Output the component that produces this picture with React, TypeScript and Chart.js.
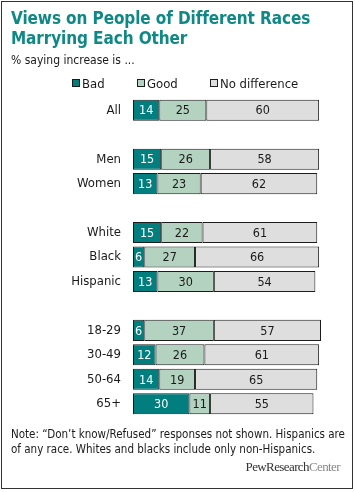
import React, { useEffect, useRef } from "react";
import { Chart, registerables } from "chart.js";

Chart.register(...registerables);

const categories = ["All", "", "Men", "Women", "", "White", "Black", "Hispanic", "", "18-29", "30-49", "50-64", "65+"];
const badValues = [14, null, 15, 13, null, 15, 6, 13, null, 6, 12, 14, 30];
const goodValues = [25, null, 26, 23, null, 22, 27, 30, null, 37, 26, 19, 11];
const noDiffValues = [60, null, 58, 62, null, 61, 66, 54, null, 57, 61, 65, 55];
const seriesNames = ["Bad", "Good", "No difference"];
const seriesColors = ["#007F7E", "#B3D2C0", "#DEDEDE"];
const labelColors = ["#ffffff", "#1a1a1a", "#1a1a1a"];

const FONT = "'DejaVu Sans Condensed', 'DejaVu Sans', sans-serif";

const valueLabelPlugin = {
  id: "valueLabels",
  afterDatasetsDraw(chart: any) {
    const ctx = chart.ctx;
    ctx.save();
    ctx.font = `12.5px ${FONT}`;
    ctx.textAlign = "center";
    ctx.textBaseline = "middle";
    chart.data.datasets.forEach((ds: any, di: number) => {
      const meta = chart.getDatasetMeta(di);
      meta.data.forEach((el: any, i: number) => {
        const v = ds.data[i];
        if (v === null || v === undefined) return;
        const { x, y, base } = el.getProps(["x", "y", "base"], true);
        ctx.fillStyle = labelColors[di];
        ctx.fillText(String(v), (x + base) / 2, y + 1);
      });
    });
    ctx.restore();
  },
};

export default function App() {
  const canvasRef = useRef<HTMLCanvasElement | null>(null);

  useEffect(() => {
    if (!canvasRef.current) return;
    const seriesData = [badValues, goodValues, noDiffValues];
    const chart = new Chart(canvasRef.current, {
      type: "bar",
      data: {
        labels: categories,
        datasets: seriesNames.map((name, i) => ({
          label: name,
          data: seriesData[i] as any,
          backgroundColor: seriesColors[i],
          borderColor: "#1c1c1c",
          borderWidth: 1,
          borderSkipped: false,
          barPercentage: 0.86,
          categoryPercentage: 1,
        })),
      },
      options: {
        indexAxis: "y",
        animation: false,
        responsive: false,
        maintainAspectRatio: false,
        layout: { padding: { left: 0, right: 34, top: 98, bottom: 76 } },
        plugins: {
          legend: { display: false },
          tooltip: { enabled: false },
          title: { display: false },
        },
        scales: {
          x: {
            stacked: true,
            min: 0,
            max: 100,
            display: false,
          },
          y: {
            stacked: true,
            grid: { display: false, drawTicks: false },
            border: { display: false },
            ticks: {
              color: "#1a1a1a",
              font: { family: FONT, size: 13 },
              padding: 12,
              autoSkip: false,
            },
            afterFit: (axis: any) => {
              axis.width = 133;
            },
          },
        },
      },
      plugins: [valueLabelPlugin],
    });
    return () => chart.destroy();
  }, []);

  const legendItem = (i: number, left: number) => (
    <div
      key={i}
      style={{
        position: "absolute",
        left,
        top: 75,
        height: 16,
        display: "flex",
        alignItems: "center",
        fontFamily: FONT,
        fontSize: 13,
        color: "#1a1a1a",
        whiteSpace: "nowrap",
      }}
    >
      <span
        style={{
          display: "inline-block",
          width: 6,
          height: 6,
          background: seriesColors[i],
          border: "1px solid #1c1c1c",
          marginRight: 2,
        }}
      />
      {seriesNames[i]}
    </div>
  );

  return (
    <div style={{ position: "absolute", left: 0, top: 0, width: 355, height: 492, background: "#fff" }}>
      <canvas ref={canvasRef} width={355} height={492} style={{ position: "absolute", left: 0, top: 0 }} />
      <div
        style={{
          position: "absolute",
          left: 1,
          top: 1,
          width: 350,
          height: 486,
          border: "1px solid #333",
          pointerEvents: "none",
        }}
      />
      <div
        style={{
          position: "absolute",
          left: 11,
          top: 8,
          fontFamily: FONT,
          fontWeight: "bold",
          fontSize: 17,
          lineHeight: "20px",
          color: "#0f8886",
          letterSpacing: -0.1,
        }}
      >
        Views on People of Different Races
        <br />
        Marrying Each Other
      </div>
      <div
        style={{
          position: "absolute",
          left: 11,
          top: 53,
          fontFamily: FONT,
          fontSize: 12,
          color: "#1a1a1a",
        }}
      >
        % saying increase is ...
      </div>
      {legendItem(0, 72)}
      {legendItem(1, 137)}
      {legendItem(2, 210)}
      <div
        style={{
          position: "absolute",
          left: 11,
          top: 427,
          width: 335,
          fontFamily: FONT,
          fontSize: 11.5,
          lineHeight: "15px",
          color: "#1a1a1a",
        }}
      >
        Note: “Don’t know/Refused” responses not shown. Hispanics are of any race. Whites and blacks include only non-Hispanics.
      </div>
      <div
        style={{
          position: "absolute",
          right: 15,
          top: 459,
          fontFamily: "'Liberation Serif', serif",
          fontSize: 13,
          letterSpacing: -0.6,
          whiteSpace: "nowrap",
        }}
      >
        <span style={{ color: "#333" }}>PewResearch</span>
        <span style={{ color: "#888" }}>Center</span>
      </div>
    </div>
  );
}
